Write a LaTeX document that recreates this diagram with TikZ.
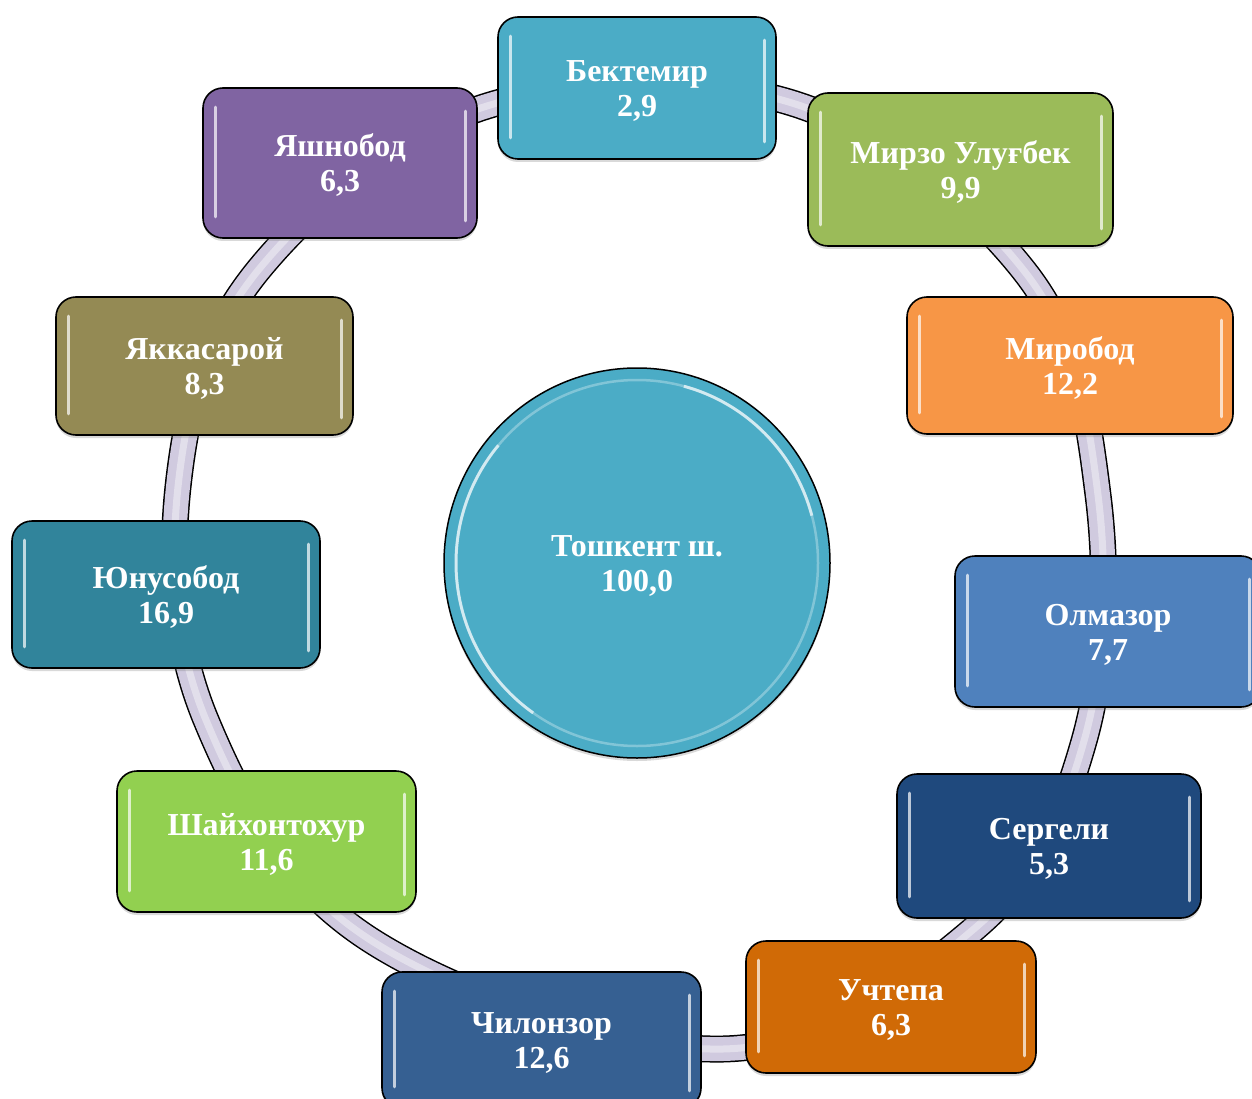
\documentclass[tikz,border=0pt]{standalone}
\usepackage{fontspec}
\setmainfont{Liberation Serif}
\usetikzlibrary{shadows,shapes.geometric}
\definecolor{cBek}{HTML}{4BACC6}
\definecolor{cMir}{HTML}{9BBB59}
\definecolor{cMrb}{HTML}{F79646}
\definecolor{cOlm}{HTML}{4F81BD}
\definecolor{cSer}{HTML}{1F497D}
\definecolor{cUch}{HTML}{D06A06}
\definecolor{cChi}{HTML}{366092}
\definecolor{cSha}{HTML}{92D050}
\definecolor{cYun}{HTML}{31849B}
\definecolor{cYak}{HTML}{948A54}
\definecolor{cYash}{HTML}{8064A2}
\definecolor{ringc}{HTML}{D0CADF}
\newcommand{\fstrut}{\rule{0pt}{27pt}}
\begin{document}
\begin{tikzpicture}[x=1pt,y=-1pt,
  distbox/.style={draw=black, line width=1.6pt, rounded corners=20pt, text=white,
    font=\fontsize{32}{35}\selectfont\bfseries, align=center, inner sep=0pt,
    drop shadow={shadow xshift=0pt, shadow yshift=-3pt, opacity=0.3}},
  hl/.style={line width=3pt, white, opacity=0.7, line cap=round},
  ringband/.style={draw=ringc, line width=24pt,
    preaction={draw=black, line width=27pt},
    postaction={draw=white, opacity=0.4, line width=7pt}}]
\useasboundingbox (0,0) rectangle (1252,1099);
\clip (0,0) rectangle (1252,1099);
% ring
\draw[ringband] plot[smooth cycle, tension=0.62] coordinates {
  (487,106) (792,103) (1025,272) (1098,495) (1084,741) (975,928)
  (723,1049) (372,941) (206,720) (179,478) (260,268)};
% centre
\node[ellipse, draw=black, line width=1.5pt, fill=cBek, minimum width=386pt, minimum height=390pt,
  text=white, font=\fontsize{32}{35}\selectfont\bfseries, align=center, inner sep=0pt,
  drop shadow={shadow xshift=0pt, shadow yshift=-3pt, opacity=0.3}]
  (tosh) at (637,563) {\fstrut Тошкент ш.\\100,0};
\draw[white, opacity=0.3, line width=2.5pt] (637,563) ellipse [x radius=181, y radius=183];
\draw[white, opacity=0.65, line width=3pt] (tosh.center) ++(125:181 and 183) arc[start angle=125, end angle=220, x radius=181, y radius=183];
\draw[white, opacity=0.65, line width=3pt] (tosh.center) ++(-15:181 and 183) arc[start angle=-15, end angle=-75, x radius=181, y radius=183];
% boxes
\node[distbox, fill=cBek, minimum width=278pt, minimum height=142pt] (bek) at (637,88) {\fstrut Бектемир\\2,9};
\node[distbox, fill=cMir, minimum width=305pt, minimum height=153pt] (mir) at (960.5,169.5) {\fstrut Мирзо Улуғбек\\9,9};
\node[distbox, fill=cMrb, minimum width=326pt, minimum height=137pt] (mrb) at (1070,365.5) {\fstrut Миробод\\12,2};
\node[distbox, fill=cOlm, minimum width=306pt, minimum height=151pt] (olm) at (1108,631.5) {\fstrut Олмазор\\7,7};
\node[distbox, fill=cSer, minimum width=304pt, minimum height=144pt] (ser) at (1049,846) {\fstrut Сергели\\5,3};
\node[distbox, fill=cUch, minimum width=290pt, minimum height=132pt] (uch) at (891,1007) {\fstrut Учтепа\\6,3};
\node[distbox, fill=cChi, minimum width=319pt, minimum height=136pt] (chi) at (541.5,1040) {\fstrut Чилонзор\\12,6};
\node[distbox, fill=cSha, minimum width=299pt, minimum height=141pt] (sha) at (266.5,841.5) {\fstrut Шайхонтохур\\11,6};
\node[distbox, fill=cYun, minimum width=308pt, minimum height=147pt] (yun) at (166,594.5) {\fstrut Юнусобод\\16,9};
\node[distbox, fill=cYak, minimum width=297pt, minimum height=138pt] (yak) at (204.5,366) {\fstrut Яккасарой\\8,3};
\node[distbox, fill=cYash, minimum width=274pt, minimum height=150pt] (yash) at (340,163) {\fstrut Яшнобод\\6,3};
% gloss highlights
\foreach \b in {bek,mir,mrb,olm,ser,uch,chi,sha,yun,yak,yash}{
  \draw[hl] ([xshift=13pt,yshift=-20pt]\b.north west) -- ([xshift=13pt,yshift=22pt]\b.south west);
  \draw[hl] ([xshift=-12pt,yshift=-24pt]\b.north east) -- ([xshift=-12pt,yshift=18pt]\b.south east);
}
\end{tikzpicture}
\end{document}
